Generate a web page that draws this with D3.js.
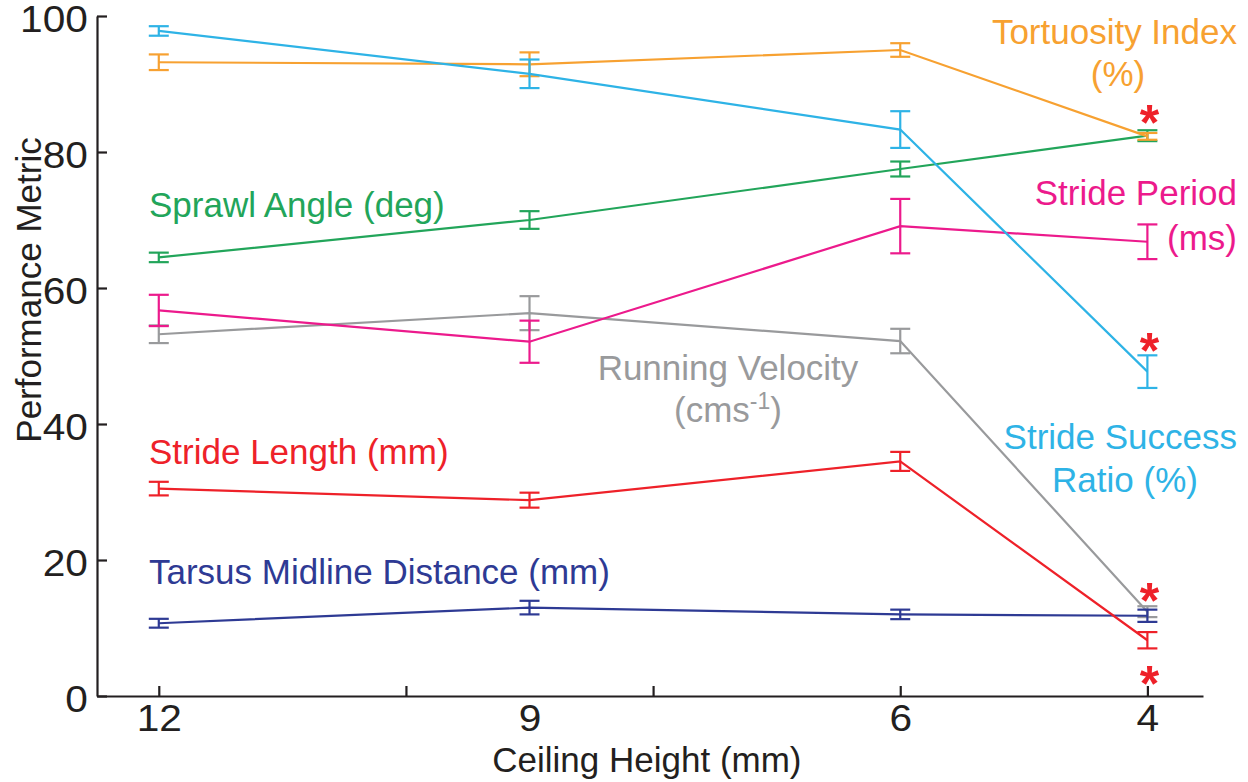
<!DOCTYPE html>
<html>
<head>
<meta charset="utf-8">
<script src="https://cdn.jsdelivr.net/npm/d3@7"></script>
<style>
  html, body { margin: 0; padding: 0; background: #fff; }
  svg { display: block; font-family: "Liberation Sans", Arial, Helvetica, sans-serif; }
</style>
</head>
<body>
<svg id="chart" width="1248" height="782"></svg>
<script>
// Ceiling heights (mm) tested
const ceilingHeights = [12, 9, 6, 4];

// Mean values of each performance metric per ceiling height
const tortuosity      = [93.2, 92.9, 95.0, 82.3];
const strideSuccess   = [97.8, 91.5, 83.3, 47.7];
const sprawlAngle     = [64.5, 70.0, 77.5, 82.4];
const stridePeriod    = [56.7, 52.1, 69.1, 66.8];
const runningVelocity = [53.2, 56.3, 52.2, 12.4];
const strideLength    = [30.5, 28.8, 34.5, 8.2];
const tarsusMidline   = [10.7, 13.0, 12.0, 11.8];

// Error bar half-widths (s.e.)
const tortuosityErr      = [1.15, 1.75, 1.0, 0.5];
const strideSuccessErr   = [0.7, 2.1, 2.7, 2.4];
const sprawlAngleErr     = [0.7, 1.3, 1.1, 0.8];
const stridePeriodErr    = [2.3, 3.1, 4.0, 2.55];
const runningVelocityErr = [1.3, 2.5, 1.8, 0.8];
const strideLengthErr    = [1.0, 1.1, 1.4, 1.2];
const tarsusMidlineErr   = [0.65, 1.0, 0.7, 0.9];

// Axis ticks
const yTicks = [0, 20, 40, 60, 80, 100];
const xTicks = [12, 10, 9, 8, 6, 4];
const xTickLabels = ["12", "", "9", "", "6", "4"];

// Significance markers at the 4 mm ceiling (value level of each asterisk)
const starX = 4;
const starLevels = [85.9, 52.4, 15.6, 3.5];

const series = [
  { name: "Running Velocity", values: runningVelocity, err: runningVelocityErr, color: "#999a9c" },
  { name: "Tarsus Midline Distance", values: tarsusMidline, err: tarsusMidlineErr, color: "#2e3a94" },
  { name: "Stride Length", values: strideLength, err: strideLengthErr, color: "#ee2129" },
  { name: "Stride Period", values: stridePeriod, err: stridePeriodErr, color: "#ec1a8c" },
  { name: "Sprawl Angle", values: sprawlAngle, err: sprawlAngleErr, color: "#22a55a" },
  { name: "Tortuosity Index", values: tortuosity, err: tortuosityErr, color: "#f7a131" },
  { name: "Stride Success Ratio", values: strideSuccess, err: strideSuccessErr, color: "#2eb3e6" }
];

const svg = d3.select("#chart");

const x = d3.scaleLinear().domain([12.5, 3.55]).range([97, 1203]);
const y = d3.scaleLinear().domain([0, 100]).range([696, 16]);

const axisColor = "#231f20";
const tickFont = 36;
const tickStretch = 1.13;

// Y axis (ticks pointing inward)
const yAxis = svg.append("g")
  .attr("transform", `translate(${x.range()[0]},0)`)
  .call(d3.axisLeft(y).tickValues(yTicks).tickSizeInner(-10).tickSizeOuter(0).tickPadding(8));
yAxis.select(".domain").attr("stroke", axisColor).attr("stroke-width", 2.2);
yAxis.selectAll(".tick line").attr("stroke", axisColor).attr("stroke-width", 2.2);
yAxis.selectAll(".tick text")
  .attr("fill", axisColor)
  .attr("font-size", tickFont)
  .attr("font-family", "Liberation Sans, Arial, sans-serif")
  .attr("dy", "0.42em")
  .attr("transform", `scale(${tickStretch},1)`);

// X axis (ticks pointing inward)
const xAxis = svg.append("g")
  .attr("transform", `translate(0,${y(0)})`)
  .call(d3.axisBottom(x).tickValues(xTicks)
    .tickFormat((d, i) => xTickLabels[i])
    .tickSizeInner(-10).tickSizeOuter(0).tickPadding(9));
xAxis.select(".domain").attr("stroke", axisColor).attr("stroke-width", 2.2);
xAxis.selectAll(".tick line").attr("stroke", axisColor).attr("stroke-width", 2.2)
  .filter(d => d === 9).remove();
xAxis.selectAll(".tick text")
  .attr("fill", axisColor)
  .attr("font-size", tickFont)
  .attr("font-family", "Liberation Sans, Arial, sans-serif")
  .attr("transform", `scale(${tickStretch},1)`);

// Axis titles
svg.append("text")
  .attr("x", x(8.05)).attr("y", 772)
  .attr("text-anchor", "middle")
  .attr("font-size", 35)
  .attr("fill", axisColor)
  .text("Ceiling Height (mm)");

svg.append("text")
  .attr("transform", `translate(41,290) rotate(-90)`)
  .attr("text-anchor", "middle")
  .attr("font-size", 35)
  .attr("fill", axisColor)
  .text("Performance Metric");

// Series lines and error bars
const line = d3.line().x(d => x(d[0])).y(d => y(d[1]));
const capHalf = 10;

series.forEach(s => {
  const pts = ceilingHeights.map((h, i) => [h, s.values[i], s.err[i]]);
  const g = svg.append("g").attr("stroke", s.color).attr("stroke-width", 2.2).attr("fill", "none");
  g.append("path").attr("d", line(pts));
  pts.forEach(p => {
    const cx = x(p[0]), top = y(p[1] + p[2]), bot = y(p[1] - p[2]);
    g.append("line").attr("x1", cx).attr("x2", cx).attr("y1", top).attr("y2", bot);
    g.append("line").attr("x1", cx - capHalf).attr("x2", cx + capHalf).attr("y1", top).attr("y2", top);
    g.append("line").attr("x1", cx - capHalf).attr("x2", cx + capHalf).attr("y1", bot).attr("y2", bot);
  });
});

// Series labels
const colorOf = name => series.find(s => s.name === name).color;
const labelSize = 35;
function label(lines, px, py, anchor, color) {
  const t = svg.append("text")
    .attr("text-anchor", anchor)
    .attr("font-size", labelSize)
    .attr("fill", color);
  lines.forEach((ln, i) => {
    t.append("tspan").attr("x", px).attr("y", py + i * 43).text(ln);
  });
  return t;
}

label(["Tortuosity Index"], 1237, 44, "end", colorOf("Tortuosity Index"));
label(["(%)"], 1118, 86, "middle", colorOf("Tortuosity Index"));
label(["Sprawl Angle (deg)"], 149, 217, "start", colorOf("Sprawl Angle"));
label(["Stride Period"], 1237, 205, "end", colorOf("Stride Period"));
label(["(ms)"], 1237, 250, "end", colorOf("Stride Period"));
label(["Stride Length (mm)"], 149, 464, "start", colorOf("Stride Length"));
label(["Tarsus Midline Distance (mm)"], 149, 584, "start", colorOf("Tarsus Midline Distance"));
label(["Stride Success"], 1237, 449, "end", colorOf("Stride Success Ratio"));
label(["Ratio (%)"], 1125, 492, "middle", colorOf("Stride Success Ratio"));

// Running velocity label with superscript unit
const rv = colorOf("Running Velocity");
label(["Running Velocity"], 728, 380, "middle", rv);
const unit = svg.append("text")
  .attr("x", 728).attr("y", 422)
  .attr("text-anchor", "middle")
  .attr("font-size", labelSize)
  .attr("fill", rv);
unit.append("tspan").text("(cms");
unit.append("tspan").attr("dy", -13).attr("font-size", 23).text("-1");
unit.append("tspan").attr("dy", 13).text(")");

// Significance asterisks
const starSize = 50;
svg.append("g").selectAll("text")
  .data(starLevels)
  .join("text")
  .attr("x", x(starX) + 2)
  .attr("y", d => y(d) + starSize * 0.57)
  .attr("text-anchor", "middle")
  .attr("font-size", starSize)
  .attr("font-weight", "bold")
  .attr("fill", "#ee2129")
  .text("*");
</script>
</body>
</html>
